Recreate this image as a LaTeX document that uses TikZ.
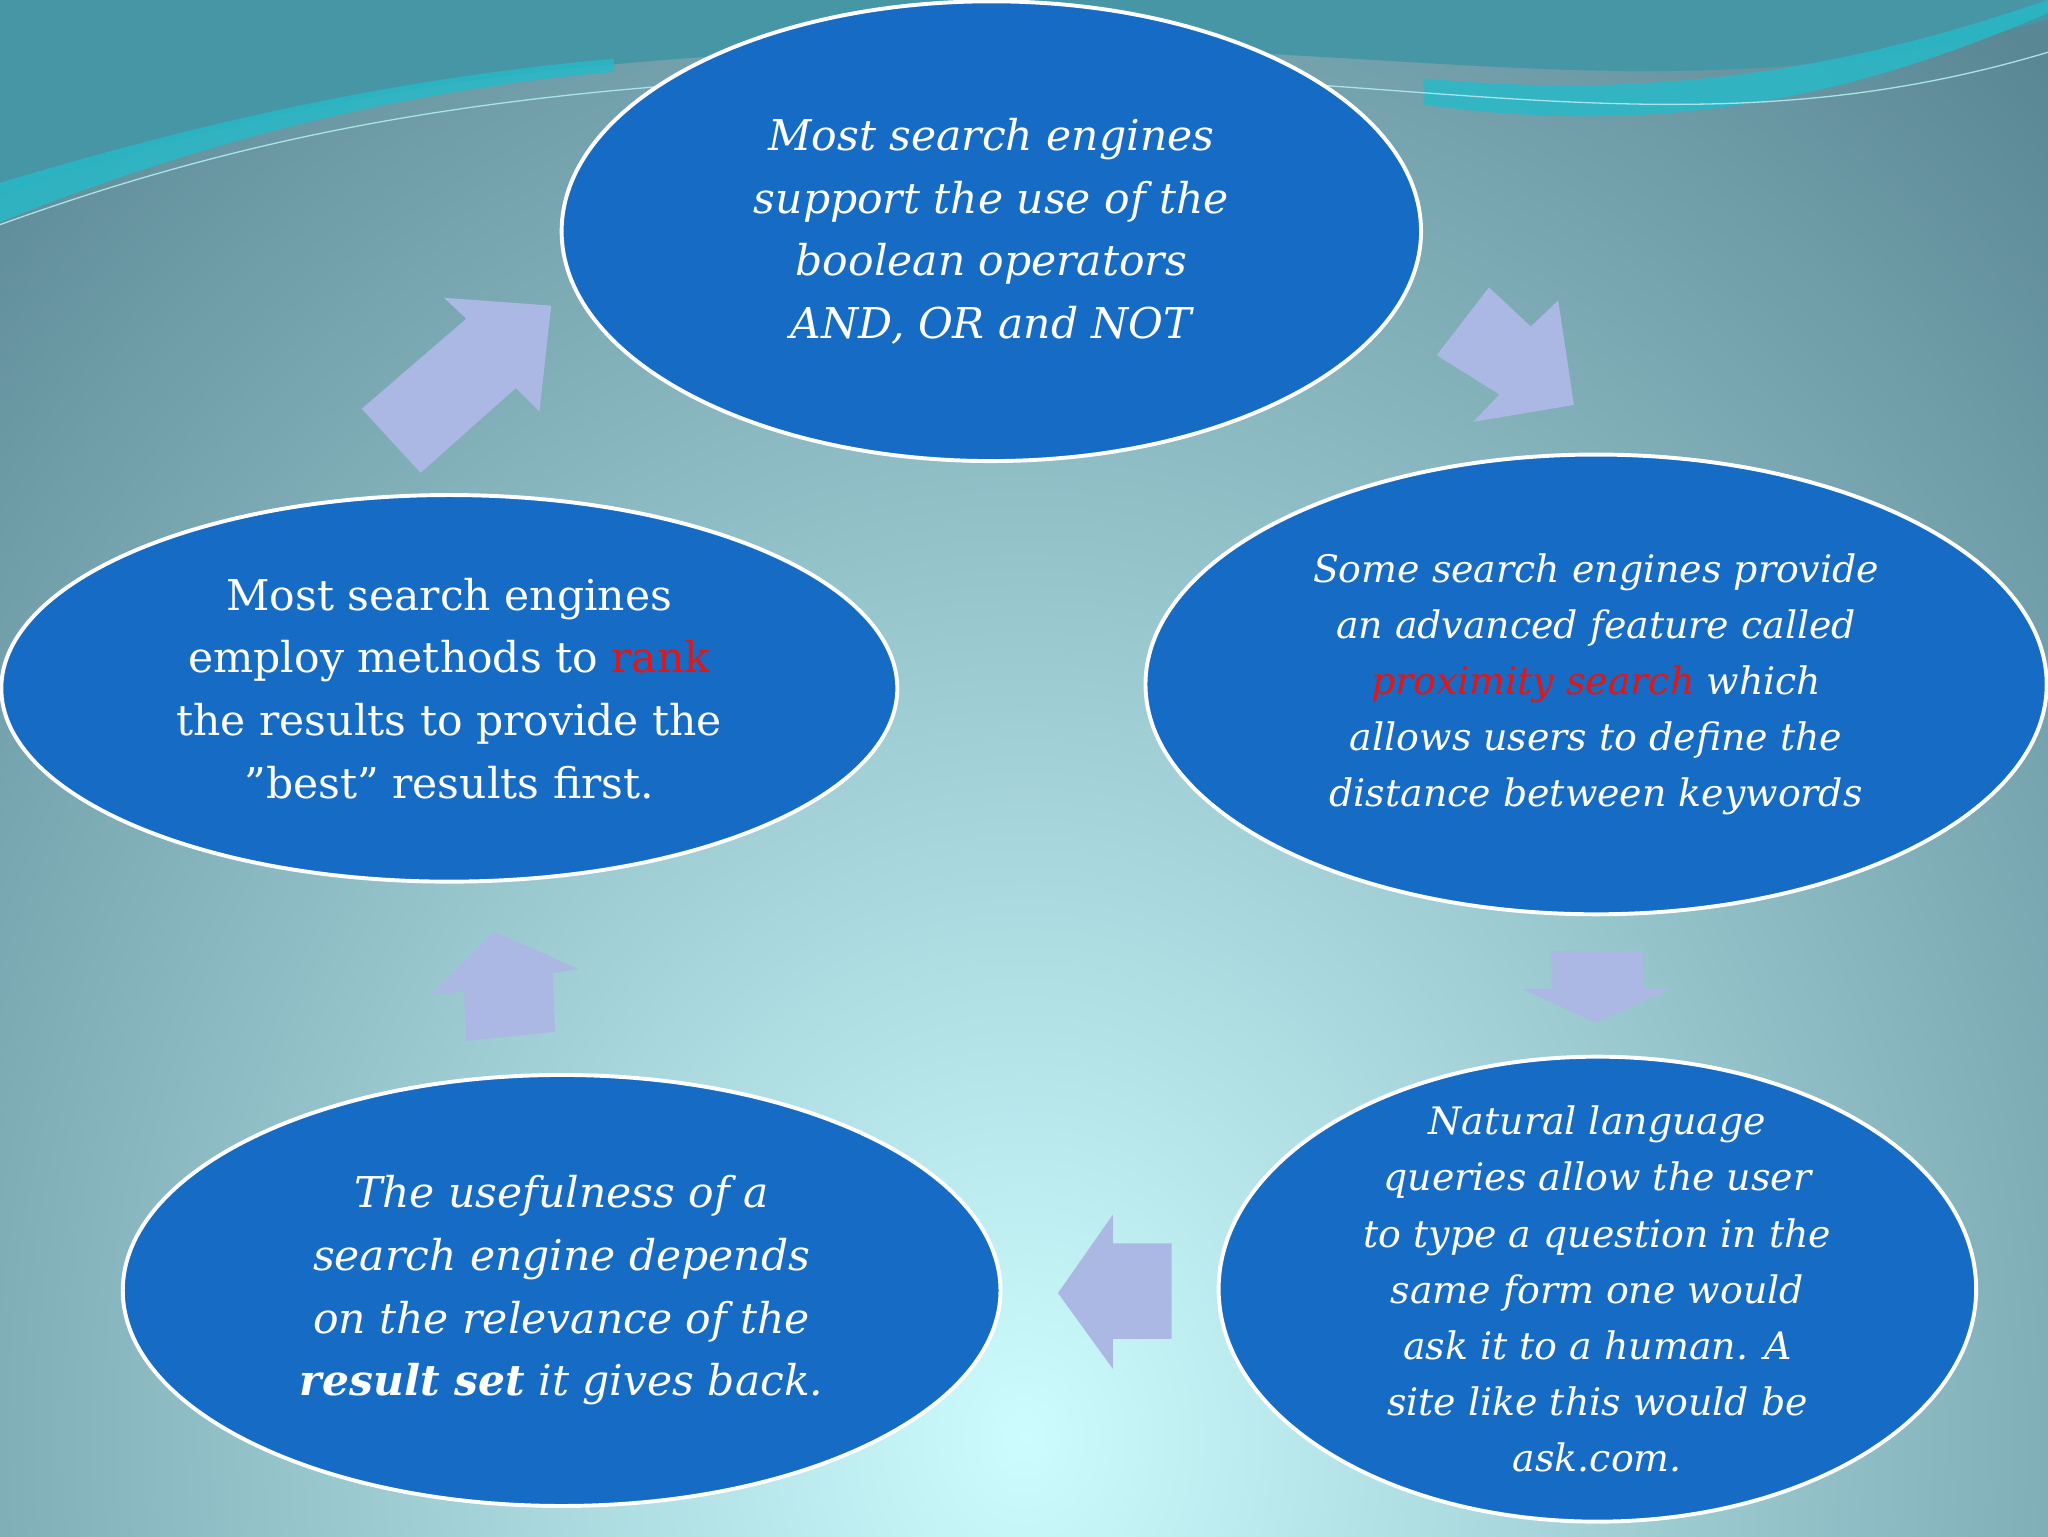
\documentclass[tikz,border=0pt]{standalone}
\usepackage{fontspec}
\setmainfont{DejaVu Serif}
\usetikzlibrary{shapes.geometric}
\definecolor{ell}{RGB}{22,108,196}
\definecolor{arr}{RGB}{172,184,228}
\definecolor{bgout}{RGB}{90,135,148}
\definecolor{bgin}{RGB}{205,252,254}
\definecolor{wave}{RGB}{40,185,200}
\definecolor{wavedark}{RGB}{70,150,165}
\definecolor{redt}{RGB}{230,20,20}
\tikzset{
 bub/.style={ellipse,draw=white,line width=3pt,fill=ell,text=white,inner sep=0pt,align=center},
 blk/.style={fill=arr,draw=none},
}
\begin{document}
\begin{tikzpicture}[x=1pt,y=-1pt]
\useasboundingbox (0,0) rectangle (1568,1176);
\begin{scope}
\clip (0,0) rectangle (1568,1176);
\shade[inner color=bgin,outer color=bgout] (-400,-300) rectangle (1968,2500);
\fill[wavedark] (0,0) -- (0,150) .. controls (200,80) and (400,40) .. (760,35) .. controls (1100,35) and (1300,90) .. (1568,15) -- (1568,0) -- cycle;
\fill[wave,opacity=0.85] (0,170) .. controls (150,110) and (300,70) .. (470,55) -- (470,45) .. controls (300,60) and (150,95) .. (0,140) -- cycle;
\fill[wave,opacity=0.85] (1090,80) .. controls (1300,110) and (1450,60) .. (1568,10) -- (1568,0) .. controls (1450,40) and (1300,80) .. (1090,60) -- cycle;
\draw[white!60!wave,line width=1pt] (0,172) .. controls (200,100) and (400,60) .. (760,55) .. controls (1100,55) and (1300,120) .. (1568,40);
\end{scope}

\fill[blk] (277,313) -- (357,244) -- (340,228) -- (422,234) -- (413,315) -- (395,297) -- (322,362) -- cycle;
\fill[blk] (1140,220) -- (1172,250) -- (1193,230) -- (1205,310) -- (1128,323) -- (1148,302) -- (1100,272) -- cycle;
\fill[blk] (1188,728) -- (1258,728) -- (1258,757) -- (1280,757) -- (1222,783) -- (1165,757) -- (1188,757) -- cycle;
\fill[blk] (897,952) -- (852,952) -- (852,930) -- (810,990) -- (852,1048) -- (852,1025) -- (897,1025) -- cycle;
\fill[blk] (357,797) -- (425,790) -- (423,745) -- (443,742) -- (378,713) -- (330,762) -- (355,759) -- cycle;

\node[bub,minimum width=658pt,minimum height=352pt] (top) at (759,177) {};
\node[text=white,align=center,font=\itshape\fontsize{32.5}{48}\selectfont] (toptext) at (759,177) {Most search engines\\support the use of the\\boolean operators\\AND, OR and NOT};
\node[bub,minimum width=690pt,minimum height=352pt] (right) at (1222,524) {};
\node[text=white,align=center,font=\itshape\fontsize{29}{43}\selectfont] (righttext) at (1222,524) {Some search engines provide\\an advanced feature called\\\textcolor{redt}{proximity search} which\\allows users to define the\\distance between keywords};
\node[bub,minimum width=686pt,minimum height=296pt] (left) at (344,527) {};
\node[text=white,align=center,font=\fontsize{32.5}{48}\selectfont] (lefttext) at (344,527) {Most search engines\\employ methods to \textcolor{redt}{rank}\\the results to provide the\\{\char"22}best{\char"22} results first.};
\node[bub,minimum width=580pt,minimum height=356pt] (br) at (1223,987) {};
\node[text=white,align=center,font=\itshape\fontsize{29}{43}\selectfont] (brtext) at (1223,987) {Natural language\\queries allow the user\\to type a question in the\\same form one would\\ask it to a human. A\\site like this would be\\ask.com.};
\node[bub,minimum width=672pt,minimum height=330pt] (bl) at (430,988) {};
\node[text=white,align=center,font=\itshape\fontsize{32.5}{48}\selectfont] (bltext) at (430,988) {The usefulness of a\\search engine depends\\on the relevance of the\\\textbf{result set} it gives back.};
\end{tikzpicture}
\end{document}
